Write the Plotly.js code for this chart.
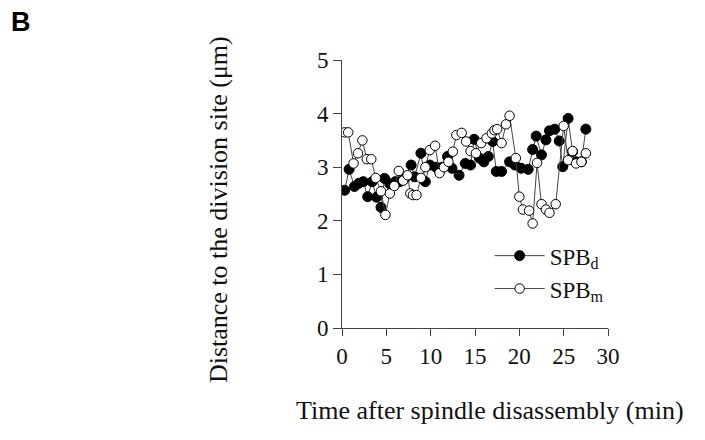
<!DOCTYPE html>
<html>
<head>
<meta charset="utf-8">
<script src="https://cdn.plot.ly/plotly-3.0.1.min.js"></script>
<style>html,body{margin:0;padding:0;background:#fff;}#chart{width:705px;height:440px;}</style>
</head>
<body>
<div id="chart"></div>
<script>
// SPBd (filled circles)
var timeD = [0.3, 0.8, 1.4, 1.9, 2.4, 2.9, 3.4, 3.9, 4.4, 4.8, 5.4, 6.0, 6.5, 7.1, 7.8, 8.2, 8.9, 9.4, 9.9, 10.6, 11.3, 11.9, 12.4, 13.2, 13.9, 14.5, 14.9, 15.5, 16.0, 16.5, 17.0, 17.4, 18.0, 18.9, 19.5, 20.2, 21.0, 21.5, 21.9, 22.5, 23.0, 23.4, 24.0, 24.5, 24.9, 25.5, 26.0, 26.4, 27.0, 27.5];
var distD = [2.57, 2.96, 2.64, 2.70, 2.73, 2.45, 2.73, 2.44, 2.25, 2.79, 2.69, 2.73, 2.73, 2.79, 3.04, 2.82, 3.26, 2.73, 3.04, 3.00, 3.00, 3.20, 2.98, 2.85, 3.07, 3.04, 3.52, 3.17, 3.10, 3.20, 3.48, 2.92, 2.92, 3.10, 3.04, 2.98, 2.96, 3.33, 3.58, 3.23, 3.51, 3.68, 3.71, 3.49, 3.01, 3.91, 3.29, 3.10, 3.10, 3.71];
// SPBm (open circles)
var timeM = [0.3, 0.7, 1.3, 1.8, 2.3, 2.8, 3.3, 3.8, 4.4, 4.9, 5.4, 5.9, 6.4, 6.9, 7.4, 7.7, 8.0, 8.4, 8.9, 9.4, 9.9, 10.5, 11.0, 11.5, 12.0, 12.5, 12.9, 13.5, 14.0, 14.5, 15.1, 15.7, 16.3, 16.9, 17.2, 17.5, 18.0, 18.5, 18.9, 19.6, 20.0, 20.4, 21.1, 21.5, 22.0, 22.5, 23.0, 23.4, 24.1, 25.0, 25.5, 26.0, 26.4, 27.0, 27.5];
var distM = [3.65, 3.65, 3.07, 3.26, 3.50, 3.15, 3.15, 2.80, 2.55, 2.11, 2.51, 2.65, 2.93, 2.75, 2.85, 2.51, 2.48, 2.48, 2.80, 3.00, 3.32, 3.40, 2.89, 3.00, 3.10, 3.29, 3.60, 3.64, 3.48, 3.30, 3.26, 3.45, 3.54, 3.63, 3.69, 3.71, 3.45, 3.80, 3.96, 3.17, 2.45, 2.21, 2.19, 1.95, 3.08, 2.31, 2.21, 2.15, 2.31, 3.77, 3.13, 3.30, 3.07, 3.10, 3.26];
var xTicks = [0, 5, 10, 15, 20, 25, 30];
var yTicks = [0, 1, 2, 3, 4, 5];

var serif = 'Liberation Serif, Times New Roman, serif';
var traces = [
  {x: timeD, y: distD, name: 'SPB<sub>d</sub>', type: 'scatter', mode: 'lines+markers', legendgroup: 'd',
   line: {color: '#444', width: 1},
   marker: {symbol: 'circle', size: 10, color: '#000', line: {color: '#000', width: 1}}},
  {x: timeM, y: distM, name: 'SPB<sub>m</sub>', type: 'scatter', mode: 'lines+markers', legendgroup: 'm',
   line: {color: '#444', width: 1},
   marker: {symbol: 'circle', size: 9.5, color: '#fff', line: {color: '#000', width: 1}}}
];
var layout = {
  width: 705, height: 440,
  margin: {l: 342, r: 97, t: 60, b: 112},
  paper_bgcolor: '#fff', plot_bgcolor: '#fff',
  showlegend: true,
  legend: {x: 0.555, y: 0.35, xanchor: 'left', yanchor: 'top', bgcolor: 'rgba(0,0,0,0)',
           font: {family: serif, size: 23, color: '#111'}, tracegroupgap: 0, itemwidth: 50},
  xaxis: {range: [0, 30], tickvals: xTicks, ticktext: xTicks.map(String), showgrid: false, zeroline: false,
          showline: true, linecolor: '#444', linewidth: 1, ticks: 'outside', ticklen: 7, tickcolor: '#444',
          tickfont: {family: serif, size: 23, color: '#111'}, fixedrange: true},
  yaxis: {range: [0, 5], tickvals: yTicks, ticktext: yTicks.map(String), showgrid: false, zeroline: false,
          showline: true, linecolor: '#444', linewidth: 1, ticks: 'outside', ticklen: 8, tickcolor: '#444',
          tickfont: {family: serif, size: 23, color: '#111'}, fixedrange: true},
  annotations: [
    {text: 'Distance to the division site (μm)', xref: 'paper', yref: 'paper', x: -0.466, y: 0.44,
     xanchor: 'center', yanchor: 'middle', textangle: -90, showarrow: false,
     font: {family: serif, size: 26, color: '#111'}},
    {text: 'Time after spindle disassembly (min)', xref: 'paper', yref: 'paper', x: 0.556, y: -0.306,
     xanchor: 'center', yanchor: 'middle', showarrow: false,
     font: {family: serif, size: 26, color: '#111'}},
    {text: '<b>B</b>', xref: 'paper', yref: 'paper', x: -1.207, y: 1.142,
     xanchor: 'center', yanchor: 'middle', showarrow: false,
     font: {family: 'Liberation Sans, Arial, sans-serif', size: 27, color: '#000'}}
  ]
};
Plotly.newPlot('chart', traces, layout, {displayModeBar: false, staticPlot: true});
</script>
</body>
</html>
